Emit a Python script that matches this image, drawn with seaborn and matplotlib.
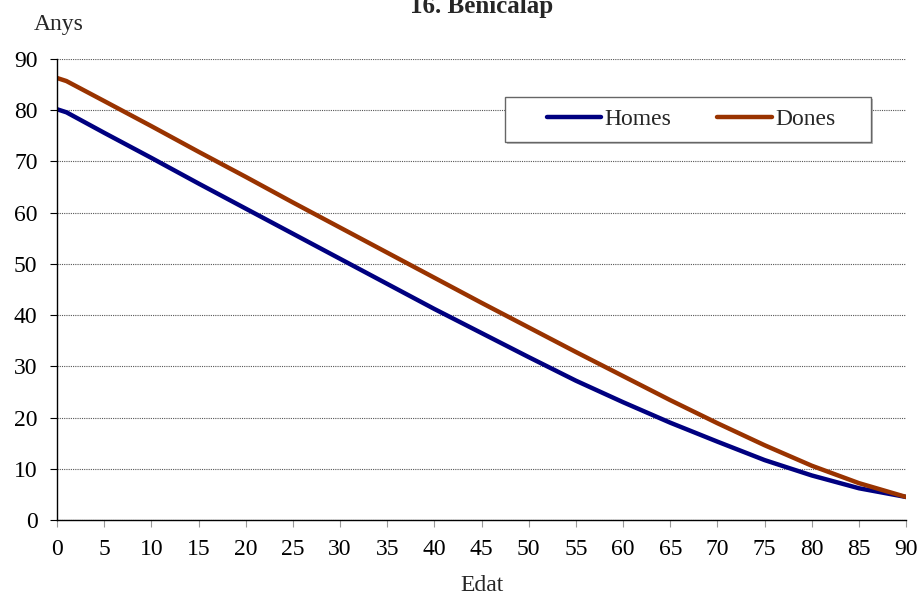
import matplotlib.pyplot as plt
import numpy as np
import pandas as pd
import seaborn as sns
from matplotlib.patches import Rectangle

# dades: esperança de vida per edat
edat = [0, 1, 5, 10, 15, 20, 25, 30, 35, 40, 45, 50, 55, 60, 65, 70, 75, 80, 85, 90]
homes = [80.2, 79.6, 75.6, 70.7, 65.7, 60.8, 55.9, 51.0, 46.1, 41.2,
         36.5, 31.8, 27.2, 23.0, 19.0, 15.3, 11.7, 8.7, 6.2, 4.5]
dones = [86.3, 85.7, 81.8, 76.9, 71.9, 67.0, 62.0, 57.1, 52.2, 47.3,
         42.4, 37.6, 32.8, 28.1, 23.4, 18.9, 14.6, 10.6, 7.2, 4.5]

df = pd.DataFrame({
    'Edat': edat * 2,
    'Anys': homes + dones,
    'Sexe': ['Homes'] * len(edat) + ['Dones'] * len(edat),
})

sns.set_theme(style="white")
plt.rcParams['font.family'] = ['Liberation Serif', 'DejaVu Serif']

fig = plt.figure(figsize=(9.19, 5.98), dpi=100)
ax = fig.add_axes([0.062, 0.1304, 0.924, 0.7709])

sns.lineplot(data=df, x='Edat', y='Anys', hue='Sexe',
             palette={'Homes': '#000080', 'Dones': '#993300'},
             linewidth=3.2, ax=ax, legend=True)

ax.set_xlim(0, 90)
ax.set_ylim(0, 90)
ax.set_xticks(np.arange(0, 91, 5))
ax.set_yticks(np.arange(0, 91, 10))
ax.tick_params(axis='both', labelsize=17, length=5, width=0.8,
               direction='out', bottom=True, left=True)
ax.tick_params(axis='x', colors='#999999', labelcolor='black', pad=8.5)
ax.tick_params(axis='y', colors='black', pad=9)

ax.grid(axis='y', color='#555555', linestyle=(0, (1, 1)), linewidth=0.8)
for s in ['top', 'right']:
    ax.spines[s].set_visible(False)
for s in ['left', 'bottom']:
    ax.spines[s].set_color('black')
    ax.spines[s].set_linewidth(1)

ax.set_xlabel('')
ax.set_ylabel('')
fig.text(0.525, 0.012, 'Edat', fontsize=17, ha='center', va='baseline')
fig.text(0.037, 0.95, 'Anys', fontsize=17, ha='left', va='baseline')
fig.text(0.524, 0.978, '16. Benicalap', fontsize=18, fontweight='bold',
         ha='center', va='baseline')

# marc de la llegenda
ax.add_patch(Rectangle((0.5295, 0.816), 0.431, 0.098, transform=ax.transAxes,
                       facecolor='#bbbbbb', edgecolor='none', zorder=3,
                       clip_on=False))
ax.add_patch(Rectangle((0.5277, 0.820), 0.431, 0.0976, transform=ax.transAxes,
                       facecolor='white', edgecolor='#666666', linewidth=1,
                       zorder=3, clip_on=False))
leg = ax.legend(loc='center', bbox_to_anchor=(0.7468, 0.8688), ncol=2,
                fontsize=17, frameon=False, handlelength=2.3,
                handletextpad=0.15, columnspacing=1.95, borderpad=0,
                borderaxespad=0)
leg.set_zorder(4)
for h in leg.get_lines():
    h.set_linewidth(3.2)
    h.set_solid_capstyle('round')

fig.savefig('out.png', dpi=100)
